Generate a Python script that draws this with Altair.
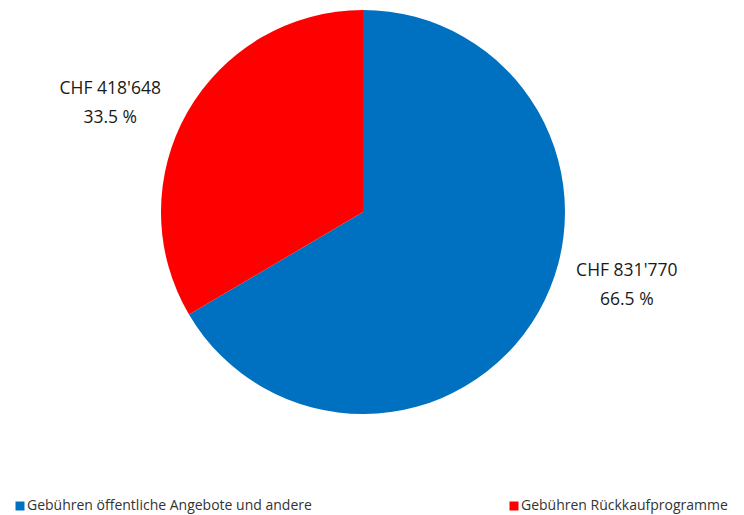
import altair as alt
import pandas as pd

categories = ["Gebühren öffentliche Angebote und andere", "Gebühren Rückkaufprogramme"]
amounts = [831770, 418648]
percents = [66.5, 33.5]
colors = ["#0070C0", "#FF0000"]

df = pd.DataFrame({
    "cat": categories,
    "amount": amounts,
    "pct": percents,
    "order": list(range(len(categories))),
})
df["label"] = [
    "CHF " + f"{a:,}".replace(",", "'") + "\n" + f"{p} %"
    for a, p in zip(amounts, percents)
]

CX, CY, R = 355, 204, 202
FONT = "Open Sans"

pie = alt.Chart(df).mark_arc(radius=R).encode(
    theta=alt.Theta("amount:Q", stack=True),
    order=alt.Order("order:Q"),
    color=alt.Color(
        "cat:N",
        scale=alt.Scale(domain=categories, range=colors),
        legend=alt.Legend(
            title=None,
            orient="none",
            legendX=5,
            legendY=491,
            direction="horizontal",
            symbolType="square",
            symbolSize=81,
            symbolStrokeWidth=0,
            labelFont=FONT,
            labelFontSize=14,
            labelColor="#333333",
            labelLimit=500,
            labelOffset=0,
            columnPadding=195,
        ),
    ),
    x=alt.value(CX),
    y=alt.value(CY),
)

lab_base = (
    alt.Chart(df)
    .transform_joinaggregate(total="sum(amount)")
    .transform_window(cum="sum(amount)", sort=[alt.SortField("order")])
    .transform_calculate(mid="2*PI*(datum.cum - datum.amount/2)/datum.total")
)

offsets = {categories[0]: (25, -77), categories[1]: (-14, 13)}
label_layers = []
for c in categories:
    dx, dy = offsets[c]
    label_layers.append(
        lab_base.transform_filter(alt.datum.cat == c)
        .mark_text(
            radius=275,
            dx=dx,
            dy=dy,
            font=FONT,
            fontSize=17.5,
            lineHeight=29,
            lineBreak="\n",
            align="center",
            baseline="middle",
            color="#1a1a1a",
        )
        .encode(
            theta=alt.Theta("mid:Q", scale=None),
            text="label:N",
            x=alt.value(CX),
            y=alt.value(CY),
        )
    )

chart = (
    alt.layer(pie, *label_layers)
    .properties(width=728, height=506, autosize=alt.AutoSizeParams(type="none"), padding=0)
    .configure_view(stroke=None)
)

chart.save("out.html", embed_options={"renderer": "svg", "actions": False})
